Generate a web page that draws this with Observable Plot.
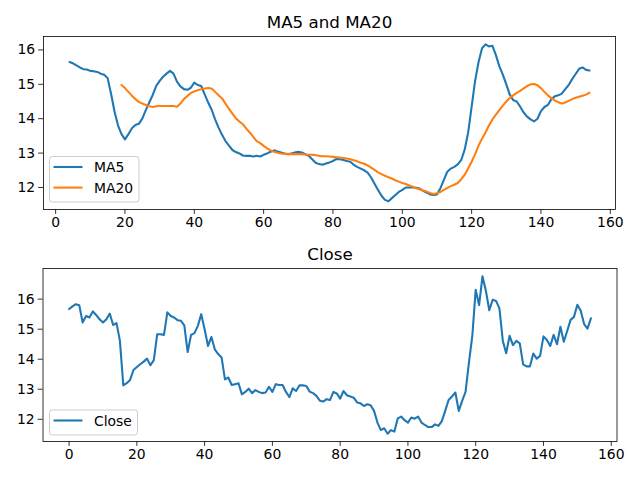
<!DOCTYPE html>
<html>
<head>
<meta charset="utf-8">
<script src="https://cdn.jsdelivr.net/npm/d3@7"></script>
<script src="https://cdn.jsdelivr.net/npm/@observablehq/plot@0.6"></script>
<style>
  html, body { margin: 0; padding: 0; background: white; }
  #fig { position: relative; width: 640px; height: 480px; background: white; font-family: "DejaVu Sans", sans-serif; }
  #fig > .panel { position: absolute; left: 0; }
  #fig > svg.overlay { position: absolute; left: 0; top: 0; pointer-events: none; }
</style>
</head>
<body>
<div id="fig"></div>
<script>
// ---- data ----
const close = [
  15.67,15.76,15.83,15.80,15.22,15.44,15.39,15.59,15.47,15.33,
  15.22,15.33,15.52,15.14,15.20,14.61,13.13,13.20,13.31,13.64,
  13.74,13.83,13.92,14.02,13.80,13.97,14.83,14.83,14.81,15.56,
  15.44,15.39,15.30,15.28,15.13,14.24,14.81,14.87,15.11,15.50,
  15.00,14.44,14.74,14.33,14.17,14.06,13.33,13.39,13.14,13.17,
  13.20,12.83,12.91,13.02,12.87,12.97,12.91,12.87,12.89,13.08,
  12.91,13.17,13.14,13.14,12.91,12.74,13.03,12.94,13.13,13.13,
  13.11,12.92,12.87,12.78,12.62,12.59,12.67,12.64,12.91,12.86,
  12.69,12.94,12.80,12.76,12.72,12.56,12.53,12.44,12.50,12.47,
  12.28,11.89,11.64,11.70,11.52,11.64,11.59,12.03,12.09,11.97,
  11.89,12.06,12.02,12.09,11.89,11.81,11.74,11.74,11.83,11.78,
  11.94,12.28,12.64,12.76,12.89,12.28,12.61,12.91,13.89,14.78,
  16.31,15.80,16.76,16.28,15.63,15.98,15.94,15.69,14.61,14.20,
  14.78,14.47,14.61,14.53,13.83,13.76,13.76,14.19,14.02,14.11,
  14.76,14.64,14.44,14.81,14.50,15.08,14.58,14.94,15.31,15.41,
  15.81,15.61,15.17,15.02,15.36
];
const ma5Start = 4;
const ma5 = [
  15.65,15.61,15.55,15.49,15.44,15.43,15.39,15.38,15.36,15.31,
  15.28,15.18,14.72,14.20,13.80,13.55,13.40,13.55,13.72,13.82,
  13.85,14.00,14.25,14.47,14.69,14.95,15.10,15.22,15.31,15.39,
  15.31,15.08,14.94,14.86,14.84,14.90,15.05,14.98,14.95,14.71,
  14.47,14.26,13.98,13.74,13.53,13.35,13.22,13.09,13.03,12.99,
  12.93,12.92,12.92,12.90,12.92,12.90,12.95,12.99,13.04,13.08,
  13.05,13.02,12.99,12.97,12.99,13.02,13.04,13.02,12.97,12.92,
  12.82,12.72,12.68,12.66,12.70,12.73,12.77,12.83,12.82,12.80,
  12.77,12.75,12.66,12.60,12.55,12.50,12.43,12.29,12.11,11.93,
  11.76,11.64,11.60,11.69,11.78,11.87,11.93,12.00,12.00,12.00,
  11.99,11.97,11.90,11.85,11.80,11.78,11.80,11.98,12.22,12.46,
  12.55,12.60,12.67,12.80,13.10,13.60,14.35,15.10,15.65,16.05,
  16.16,16.10,16.12,15.85,15.52,15.28,15.00,14.70,14.54,14.50,
  14.35,14.18,14.06,13.98,13.92,14.00,14.22,14.34,14.40,14.57,
  14.65,14.68,14.73,14.86,14.98,15.15,15.30,15.45,15.49,15.42,
  15.40
];
const ma20Start = 19;
const ma20 = [
  14.98,14.89,14.78,14.67,14.57,14.49,14.44,14.40,14.36,14.34,
  14.36,14.37,14.37,14.37,14.37,14.37,14.35,14.44,14.57,14.66,
  14.75,14.79,14.83,14.86,14.88,14.89,14.88,14.78,14.68,14.59,
  14.44,14.29,14.15,14.01,13.92,13.84,13.71,13.60,13.47,13.35,
  13.29,13.21,13.14,13.08,13.04,13.01,12.99,12.98,12.97,12.97,
  12.97,12.97,12.97,12.96,12.95,12.95,12.94,12.92,12.91,12.91,
  12.90,12.89,12.88,12.87,12.86,12.84,12.82,12.79,12.76,12.72,
  12.69,12.64,12.58,12.51,12.44,12.39,12.34,12.30,12.26,12.21,
  12.17,12.13,12.10,12.06,12.02,11.98,11.95,11.91,11.88,11.84,
  11.81,11.83,11.87,11.93,11.99,12.04,12.08,12.13,12.24,12.37,
  12.55,12.75,12.97,13.22,13.42,13.60,13.80,13.98,14.12,14.25,
  14.38,14.50,14.60,14.68,14.75,14.81,14.88,14.95,15.00,15.01,
  14.97,14.89,14.78,14.68,14.60,14.53,14.48,14.44,14.47,14.52,
  14.57,14.61,14.64,14.67,14.70,14.76
];
const xTicks = [0, 20, 40, 60, 80, 100, 120, 140, 160];
const yTicks = [12, 13, 14, 15, 16];
const titles = ["MA5 and MA20", "Close"];
const seriesNames = ["MA5", "MA20", "Close"];
const colors = ["#1f77b4", "#ff7f0e"];

// ---- drawing ----
const fig = document.getElementById("fig");
const LW = 2.08;

function axes(opts) {
  return [
    Plot.frame({stroke: "black", strokeWidth: 0.8}),
    Plot.axisX(xTicks, {tickSize: 4.9, tickPadding: 3.2, strokeWidth: 0.8, label: null}),
    Plot.axisY(yTicks, {tickSize: 4.9, tickPadding: 3.5, strokeWidth: 0.8, label: null}),
    Plot.text([opts.title], {text: d => d, frameAnchor: "top", dy: -8.3, lineAnchor: "bottom", fontSize: 16.7})
  ];
}

const plotStyle = {fontFamily: "DejaVu Sans", fontSize: "13.9px", color: "black", background: "white", overflow: "visible"};

const topPlot = Plot.plot({
  width: 640, height: 240,
  marginTop: 36, marginBottom: 31, marginLeft: 43, marginRight: 25,
  x: {domain: [-3.5, 161.5]},
  y: {domain: [11.36, 16.39]},
  style: plotStyle,
  marks: [
    Plot.lineY(ma5, {x: (d, i) => ma5Start + i, y: d => d, stroke: colors[0], strokeWidth: LW}),
    Plot.lineY(ma20, {x: (d, i) => ma20Start + i, y: d => d, stroke: colors[1], strokeWidth: LW}),
    ...axes({title: titles[0]})
  ]
});
topPlot.classList.add("panel");
topPlot.style.top = "0px";
fig.appendChild(topPlot);

const bottomPlot = Plot.plot({
  width: 640, height: 240,
  marginTop: 28, marginBottom: 39, marginLeft: 42.5, marginRight: 23.5,
  x: {domain: [-7.7, 161.7]},
  y: {domain: [11.26, 17.02]},
  style: plotStyle,
  marks: [
    Plot.lineY(close, {x: (d, i) => i, y: d => d, stroke: colors[0], strokeWidth: LW}),
    ...axes({title: titles[1]})
  ]
});
bottomPlot.classList.add("panel");
bottomPlot.style.top = "240px";
fig.appendChild(bottomPlot);

// ---- legends (matplotlib style, lower left inside each axes) ----
const ov = d3.select(fig).append("svg").attr("class", "overlay")
  .attr("width", 640).attr("height", 480)
  .style("font-family", "DejaVu Sans").style("font-size", "13.9px");

function legend(x, y, w, h, entries) {
  const g = ov.append("g");
  g.append("rect").attr("x", x + 0.5).attr("y", y + 0.5).attr("width", w).attr("height", h)
    .attr("rx", 2.8).attr("fill", "white").attr("fill-opacity", 0.8)
    .attr("stroke", "#cccccc").attr("stroke-width", 1);
  entries.forEach((e, k) => {
    const cy = y + 11 + k * 20.6;
    g.append("line").attr("x1", x + 4.5).attr("x2", x + 33.5).attr("y1", cy).attr("y2", cy)
      .attr("stroke", e.color).attr("stroke-width", LW);
    g.append("text").attr("x", x + 45).attr("y", cy).attr("dy", "0.36em").attr("fill", "black").text(e.name);
  });
}
legend(49, 156, 89.5, 45.5, [{name: seriesNames[0], color: colors[0]}, {name: seriesNames[1], color: colors[1]}]);
legend(49, 409.5, 88, 25, [{name: seriesNames[2], color: colors[0]}]);
</script>
</body>
</html>
